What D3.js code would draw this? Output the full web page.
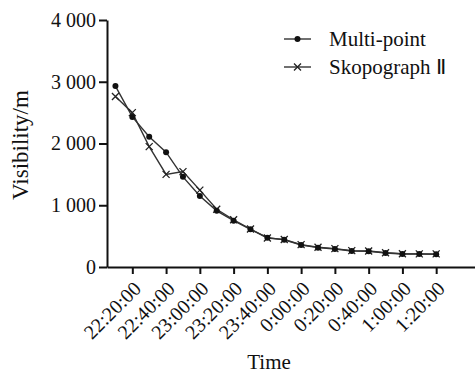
<!DOCTYPE html>
<html lang='en'>
<head>
  <meta charset='UTF-8'>
  <title>Visibility vs Time</title>
  <style>
  body {
    margin: 0;
    background: white;
  }
  text {
    font-family: 'Liberation Serif', 'Times New Roman', serif;
    fill: #111;
  }
  .axis path, .axis line {
    stroke: #111;
    stroke-width: 2px;
  }
  .axis text {
    font-size: 20px;
  }
  .label, .legend text {
    font-size: 21px;
  }
  .series {
    fill: none;
    stroke: #333;
    stroke-width: 1.4px;
  }
  </style>
  <script src='https://d3js.org/d3.v7.min.js'></script>
</head>
<body>
  <script>

  // time stamps every 10 minutes, 22:10 to 1:20 (next day)
  var times = ['22:10', '22:20', '22:30', '22:40', '22:50', '23:00', '23:10', '23:20', '23:30', '23:40',
               '23:50', '0:00', '0:10', '0:20', '0:30', '0:40', '0:50', '1:00', '1:10', '1:20'];

  var multiPoint = [2930, 2430, 2110, 1860, 1460, 1150, 910, 750, 610, 475,
                    440, 356, 313, 291, 259, 254, 227, 210, 210, 205];

  var skopograph = [2760, 2500, 1950, 1500, 1545, 1245, 935, 765, 615, 470,
                    445, 362, 320, 298, 265, 258, 232, 215, 213, 212];

  var xTicks = ['22:20', '22:40', '23:00', '23:20', '23:40', '0:00', '0:20', '0:40', '1:00', '1:20'];
  var yTicks = [0, 1000, 2000, 3000, 4000];
  var yTickLabels = ['0', '1 000', '2 000', '3 000', '4 000'];

  var seriesNames = ['Multi-point', 'Skopograph \u2161'];

  function toDate(s) {
    var p = s.split(':').map(Number);
    var day = p[0] < 12 ? 2 : 1;
    return new Date(2000, 0, day, p[0], p[1]);
  }

  var svg = d3.select('body').append('svg')
    .attr('width', 475)
    .attr('height', 376);

  var x = d3.scaleTime()
    .domain([toDate('22:05'), toDate('1:43')])
    .range([107, 475]);

  var y = d3.scaleLinear()
    .domain([0, 4000])
    .range([267, 20]);

  // axes

  svg.append('g')
    .attr('class', 'axis')
    .attr('transform', 'translate(0,267)')
    .call(d3.axisBottom(x).tickValues(xTicks.map(toDate)).tickSize(7).tickSizeOuter(0).tickFormat(''));

  svg.append('g')
    .attr('class', 'axis')
    .attr('transform', 'translate(107,0)')
    .call(d3.axisLeft(y).tickValues(yTicks).tickSize(8).tickSizeOuter(0).tickPadding(3)
      .tickFormat(function (d, i) { return yTickLabels[i]; }));

  // rotated x tick labels

  svg.append('g')
    .selectAll('text')
    .data(xTicks)
    .enter()
    .append('text')
    .attr('text-anchor', 'end')
    .style('font-size', '20px')
    .attr('transform', function (d) { return 'translate(' + (x(toDate(d)) + 5) + ',285) rotate(-45)'; })
    .attr('dy', '0.35em')
    .text(function (d) { return d + ':00'; });

  // lines

  var line = d3.line()
    .x(function (d, i) { return x(toDate(times[i])); })
    .y(function (d) { return y(d); });

  svg.append('path').attr('class', 'series').attr('d', line(skopograph));
  svg.append('path').attr('class', 'series').attr('d', line(multiPoint));

  function drawCross(sel, cx, cy) {
    var s = 3.5;
    sel.append('path')
      .attr('d', 'M' + (cx - s) + ',' + (cy - s) + 'L' + (cx + s) + ',' + (cy + s) +
                 'M' + (cx - s) + ',' + (cy + s) + 'L' + (cx + s) + ',' + (cy - s))
      .attr('stroke', '#222')
      .attr('stroke-width', 1.3);
  }

  var marks = svg.append('g');

  skopograph.forEach(function (d, i) {
    drawCross(marks, x(toDate(times[i])), y(d));
  });

  marks.selectAll('circle')
    .data(multiPoint)
    .enter()
    .append('circle')
    .attr('cx', function (d, i) { return x(toDate(times[i])); })
    .attr('cy', function (d) { return y(d); })
    .attr('r', 3)
    .attr('fill', '#111');

  // legend

  var legend = svg.append('g').attr('class', 'legend');

  [39, 67].forEach(function (ly, i) {
    legend.append('line')
      .attr('x1', 284).attr('x2', 311)
      .attr('y1', ly).attr('y2', ly)
      .attr('stroke', '#333').attr('stroke-width', 1.4);
    if (i === 0) {
      legend.append('circle').attr('cx', 297.5).attr('cy', ly).attr('r', 3).attr('fill', '#111');
    } else {
      drawCross(legend, 297.5, ly);
    }
    legend.append('text')
      .attr('x', 329)
      .attr('y', ly + 7)
      .text(seriesNames[i]);
  });

  // axis labels

  svg.append('text')
    .attr('class', 'label')
    .attr('text-anchor', 'middle')
    .attr('x', 269)
    .attr('y', 369)
    .text('Time');

  svg.append('text')
    .attr('class', 'label')
    .attr('text-anchor', 'middle')
    .style('font-size', '23px')
    .attr('transform', 'translate(28,145) rotate(-90)')
    .text('Visibility/m');
  </script>
</body>
</html>
